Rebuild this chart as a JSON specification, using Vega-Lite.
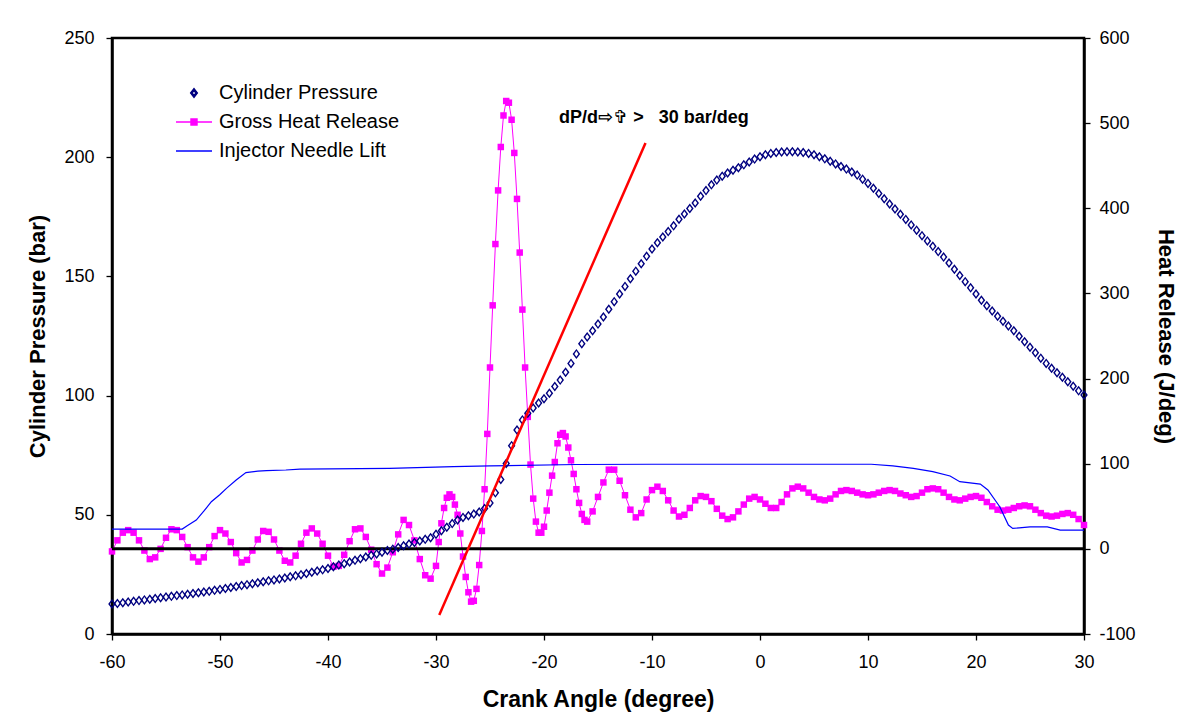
{
 "$schema": "https://vega.github.io/schema/vega-lite/v6.json",
 "width": 972,
 "height": 596,
 "autosize": {"type": "none"},
 "padding": {"left": 112, "top": 38, "right": 106, "bottom": 86},
 "background": "white",
 "config": {
  "view": {"stroke": "black", "strokeWidth": 2.5},
  "axis": {"grid": false, "domainColor": "black", "domainWidth": 2.5, "tickColor": "black", "tickWidth": 1.3, "tickSize": 6, "labelColor": "black", "labelFont": "Liberation Sans", "labelFontSize": 18, "titleFont": "Liberation Sans", "titleFontWeight": "bold", "titleColor": "black", "titleFontSize": 22, "labelFlush": false, "labelOverlap": false, "labelExpr": "'' + datum.value"}
 },
 "datasets": {
  "pressure": [
   {"a":-60,"v":12.6},{"a":-59.5,"v":12.8},{"a":-59,"v":13.1},{"a":-58.5,"v":13.4},{"a":-58,"v":13.7},{"a":-57.5,"v":14.0},{"a":-57,"v":14.3},{"a":-56.5,"v":14.6},{"a":-56,"v":14.9},{"a":-55.5,"v":15.2},{"a":-55,"v":15.5},{"a":-54.5,"v":15.8},{"a":-54,"v":16.1},{"a":-53.5,"v":16.4},{"a":-53,"v":16.7},{"a":-52.5,"v":17.0},{"a":-52,"v":17.3},{"a":-51.5,"v":17.6},{"a":-51,"v":17.9},{"a":-50.5,"v":18.3},{"a":-50,"v":18.7},{"a":-49.5,"v":19.1},{"a":-49,"v":19.5},{"a":-48.5,"v":19.9},{"a":-48,"v":20.3},{"a":-47.5,"v":20.7},{"a":-47,"v":21.1},{"a":-46.5,"v":21.5},{"a":-46,"v":21.9},{"a":-45.5,"v":22.3},{"a":-45,"v":22.7},{"a":-44.5,"v":23.1},{"a":-44,"v":23.5},{"a":-43.5,"v":24.0},{"a":-43,"v":24.4},{"a":-42.5,"v":24.9},{"a":-42,"v":25.4},{"a":-41.5,"v":25.9},{"a":-41,"v":26.4},{"a":-40.5,"v":26.9},{"a":-40,"v":27.5},{"a":-39.5,"v":28.2},{"a":-39,"v":28.9},{"a":-38.5,"v":29.5},{"a":-38,"v":30.2},{"a":-37.5,"v":30.9},{"a":-37,"v":31.6},{"a":-36.5,"v":32.3},{"a":-36,"v":33.0},{"a":-35.5,"v":33.6},{"a":-35,"v":34.3},{"a":-34.5,"v":35.0},{"a":-34,"v":35.6},{"a":-33.5,"v":36.3},{"a":-33,"v":37.0},{"a":-32.5,"v":37.7},{"a":-32,"v":38.4},{"a":-31.5,"v":39.0},{"a":-31,"v":39.7},{"a":-30.5,"v":40.4},{"a":-30,"v":41.8},{"a":-29.5,"v":43.3},{"a":-29,"v":44.8},{"a":-28.5,"v":46.3},{"a":-28,"v":47.8},{"a":-27.5,"v":48.9},{"a":-27,"v":49.6},{"a":-26.5,"v":50.3},{"a":-26,"v":51.2},{"a":-25.5,"v":52.6},{"a":-25,"v":55.0},{"a":-24.5,"v":59.2},{"a":-24,"v":64.8},{"a":-23.5,"v":71.5},{"a":-23,"v":79.0},{"a":-22.5,"v":85.6},{"a":-22,"v":89.8},{"a":-21.5,"v":92.6},{"a":-21,"v":94.8},{"a":-20.5,"v":96.9},{"a":-20,"v":98.7},{"a":-19.5,"v":101.0},{"a":-19,"v":103.8},{"a":-18.5,"v":106.5},{"a":-18,"v":109.8},{"a":-17.5,"v":113.5},{"a":-17,"v":117.5},{"a":-16.5,"v":121.8},{"a":-16,"v":124.6},{"a":-15.5,"v":127.2},{"a":-15,"v":130.0},{"a":-14.5,"v":133.0},{"a":-14,"v":136.2},{"a":-13.5,"v":139.4},{"a":-13,"v":142.6},{"a":-12.5,"v":145.8},{"a":-12,"v":149.0},{"a":-11.5,"v":152.2},{"a":-11,"v":155.3},{"a":-10.5,"v":158.4},{"a":-10,"v":161.5},{"a":-9.5,"v":164.1},{"a":-9,"v":166.5},{"a":-8.5,"v":168.8},{"a":-8,"v":171.2},{"a":-7.5,"v":174.0},{"a":-7,"v":176.2},{"a":-6.5,"v":178.5},{"a":-6,"v":180.8},{"a":-5.5,"v":183.6},{"a":-5,"v":186.0},{"a":-4.5,"v":188.4},{"a":-4,"v":190.4},{"a":-3.5,"v":192.0},{"a":-3,"v":193.4},{"a":-2.5,"v":194.5},{"a":-2,"v":195.6},{"a":-1.5,"v":196.8},{"a":-1,"v":198.0},{"a":-0.5,"v":199.2},{"a":0,"v":200.2},{"a":0.5,"v":201.0},{"a":1,"v":201.6},{"a":1.5,"v":202.0},{"a":2,"v":202.2},{"a":2.5,"v":202.3},{"a":3,"v":202.3},{"a":3.5,"v":202.2},{"a":4,"v":202.0},{"a":4.5,"v":201.6},{"a":5,"v":201.0},{"a":5.5,"v":200.2},{"a":6,"v":199.3},{"a":6.5,"v":198.3},{"a":7,"v":197.2},{"a":7.5,"v":196.1},{"a":8,"v":195.0},{"a":8.5,"v":193.8},{"a":9,"v":192.5},{"a":9.5,"v":190.8},{"a":10,"v":189.0},{"a":10.5,"v":187.0},{"a":11,"v":184.8},{"a":11.5,"v":182.6},{"a":12,"v":180.4},{"a":12.5,"v":178.3},{"a":13,"v":176.1},{"a":13.5,"v":173.9},{"a":14,"v":171.6},{"a":14.5,"v":169.4},{"a":15,"v":167.1},{"a":15.5,"v":164.9},{"a":16,"v":162.6},{"a":16.5,"v":160.4},{"a":17,"v":158.1},{"a":17.5,"v":155.6},{"a":18,"v":153.0},{"a":18.5,"v":150.4},{"a":19,"v":147.8},{"a":19.5,"v":145.2},{"a":20,"v":142.6},{"a":20.5,"v":140.0},{"a":21,"v":137.7},{"a":21.5,"v":135.5},{"a":22,"v":133.3},{"a":22.5,"v":131.2},{"a":23,"v":129.2},{"a":23.5,"v":127.2},{"a":24,"v":124.9},{"a":24.5,"v":122.6},{"a":25,"v":120.3},{"a":25.5,"v":118.0},{"a":26,"v":115.7},{"a":26.5,"v":113.5},{"a":27,"v":111.5},{"a":27.5,"v":109.6},{"a":28,"v":107.7},{"a":28.5,"v":105.8},{"a":29,"v":103.9},{"a":29.5,"v":102.0},{"a":30,"v":100.2}
  ],
  "heat": [
   {"a":-60,"v":-3},{"a":-59.5,"v":10},{"a":-59,"v":19},{"a":-58.5,"v":22},{"a":-58,"v":19},{"a":-57.5,"v":10},{"a":-57,"v":-2},{"a":-56.5,"v":-12},{"a":-56,"v":-10},{"a":-55.5,"v":0},{"a":-55,"v":13},{"a":-54.5,"v":23},{"a":-54,"v":22},{"a":-53.5,"v":14},{"a":-53,"v":2},{"a":-52.5,"v":-10},{"a":-52,"v":-15},{"a":-51.5,"v":-10},{"a":-51,"v":2},{"a":-50.5,"v":15},{"a":-50,"v":22},{"a":-49.5,"v":18},{"a":-49,"v":8},{"a":-48.5,"v":-5},{"a":-48,"v":-16},{"a":-47.5,"v":-13},{"a":-47,"v":-2},{"a":-46.5,"v":11},{"a":-46,"v":21},{"a":-45.5,"v":20},{"a":-45,"v":11},{"a":-44.5,"v":-2},{"a":-44,"v":-14},{"a":-43.5,"v":-16},{"a":-43,"v":-8},{"a":-42.5,"v":6},{"a":-42,"v":19},{"a":-41.5,"v":24},{"a":-41,"v":18},{"a":-40.5,"v":6},{"a":-40,"v":-8},{"a":-39.5,"v":-21},{"a":-39,"v":-20},{"a":-38.5,"v":-7},{"a":-38,"v":9},{"a":-37.5,"v":23},{"a":-37,"v":24},{"a":-36.5,"v":14},{"a":-36,"v":-1},{"a":-35.5,"v":-18},{"a":-35,"v":-29},{"a":-34.5,"v":-22},{"a":-34,"v":-4},{"a":-33.5,"v":17},{"a":-33,"v":34},{"a":-32.5,"v":28},{"a":-32,"v":10},{"a":-31.5,"v":-12},{"a":-31,"v":-31},{"a":-30.5,"v":-35},{"a":-30,"v":-20},{"a":-29.75,"v":8},{"a":-29.5,"v":30},{"a":-29.25,"v":48},{"a":-29,"v":60},{"a":-28.75,"v":64},{"a":-28.5,"v":61},{"a":-28.25,"v":52},{"a":-28,"v":40},{"a":-27.75,"v":18},{"a":-27.5,"v":-9},{"a":-27.25,"v":-33},{"a":-27,"v":-51},{"a":-26.75,"v":-62},{"a":-26.5,"v":-61},{"a":-26.25,"v":-47},{"a":-26,"v":-19},{"a":-25.75,"v":21},{"a":-25.5,"v":70},{"a":-25.25,"v":135},{"a":-25,"v":213},{"a":-24.75,"v":286},{"a":-24.5,"v":358},{"a":-24.25,"v":421},{"a":-24,"v":472},{"a":-23.75,"v":509},{"a":-23.5,"v":526},{"a":-23.25,"v":524},{"a":-23,"v":504},{"a":-22.75,"v":465},{"a":-22.5,"v":411},{"a":-22.25,"v":348},{"a":-22,"v":281},{"a":-21.75,"v":213},{"a":-21.5,"v":155},{"a":-21.25,"v":99},{"a":-21,"v":59},{"a":-20.75,"v":32},{"a":-20.5,"v":19},{"a":-20.25,"v":19},{"a":-20,"v":26},{"a":-19.75,"v":45},{"a":-19.5,"v":66},{"a":-19.25,"v":86},{"a":-19,"v":102},{"a":-18.75,"v":124},{"a":-18.5,"v":134},{"a":-18.25,"v":136},{"a":-18,"v":132},{"a":-17.75,"v":119},{"a":-17.5,"v":104},{"a":-17.25,"v":88},{"a":-17,"v":70},{"a":-16.75,"v":54},{"a":-16.5,"v":41},{"a":-16.25,"v":34},{"a":-16,"v":32},{"a":-15.5,"v":44},{"a":-15,"v":61},{"a":-14.5,"v":78},{"a":-14,"v":93},{"a":-13.5,"v":93},{"a":-13,"v":80},{"a":-12.5,"v":63},{"a":-12,"v":46},{"a":-11.5,"v":37},{"a":-11,"v":42},{"a":-10.5,"v":58},{"a":-10,"v":69},{"a":-9.5,"v":73},{"a":-9,"v":68},{"a":-8.5,"v":57},{"a":-8,"v":45},{"a":-7.5,"v":38},{"a":-7,"v":40},{"a":-6.5,"v":48},{"a":-6,"v":57},{"a":-5.5,"v":62},{"a":-5,"v":61},{"a":-4.5,"v":56},{"a":-4,"v":47},{"a":-3.5,"v":39},{"a":-3,"v":35},{"a":-2.5,"v":37},{"a":-2,"v":44},{"a":-1.5,"v":52},{"a":-1,"v":59},{"a":-0.5,"v":61},{"a":0,"v":58},{"a":0.5,"v":53},{"a":1,"v":48},{"a":1.5,"v":48},{"a":2,"v":55},{"a":2.5,"v":64},{"a":3,"v":71},{"a":3.5,"v":73},{"a":4,"v":71},{"a":4.5,"v":66},{"a":5,"v":61},{"a":5.5,"v":58},{"a":6,"v":57},{"a":6.5,"v":59},{"a":7,"v":64},{"a":7.5,"v":68},{"a":8,"v":69},{"a":8.5,"v":68},{"a":9,"v":66},{"a":9.5,"v":64},{"a":10,"v":63},{"a":10.5,"v":64},{"a":11,"v":66},{"a":11.5,"v":68},{"a":12,"v":69},{"a":12.5,"v":68},{"a":13,"v":65},{"a":13.5,"v":63},{"a":14,"v":61},{"a":14.5,"v":62},{"a":15,"v":66},{"a":15.5,"v":70},{"a":16,"v":71},{"a":16.5,"v":70},{"a":17,"v":66},{"a":17.5,"v":61},{"a":18,"v":58},{"a":18.5,"v":57},{"a":19,"v":59},{"a":19.5,"v":61},{"a":20,"v":62},{"a":20.5,"v":60},{"a":21,"v":55},{"a":21.5,"v":50},{"a":22,"v":46},{"a":22.5,"v":45},{"a":23,"v":46},{"a":23.5,"v":48},{"a":24,"v":50},{"a":24.5,"v":51},{"a":25,"v":50},{"a":25.5,"v":46},{"a":26,"v":42},{"a":26.5,"v":39},{"a":27,"v":38},{"a":27.5,"v":39},{"a":28,"v":41},{"a":28.5,"v":42},{"a":29,"v":40},{"a":29.5,"v":35},{"a":30,"v":28}
  ],
  "needle": [
   {"a":-60,"v":44.0},{"a":-53.5,"v":44.0},{"a":-53,"v":45.5},{"a":-52.2,"v":47.8},{"a":-51.5,"v":51.5},{"a":-50.8,"v":55.5},{"a":-50,"v":58.5},{"a":-49.4,"v":61.1},{"a":-48.5,"v":64.6},{"a":-47.6,"v":67.7},{"a":-46.5,"v":68.3},{"a":-45.7,"v":68.5},{"a":-43.9,"v":68.8},{"a":-42.6,"v":69.2},{"a":-34.3,"v":69.5},{"a":-28.4,"v":70.2},{"a":-25,"v":70.5},{"a":-17,"v":71.1},{"a":-10,"v":71.2},{"a":10.3,"v":71.2},{"a":12.3,"v":70.5},{"a":14.2,"v":69.5},{"a":16,"v":68.1},{"a":17.6,"v":66.3},{"a":18.5,"v":63.9},{"a":20.4,"v":62.9},{"a":21.1,"v":60.4},{"a":22.2,"v":53.4},{"a":23,"v":45.7},{"a":23.4,"v":44.3},{"a":24,"v":44.5},{"a":25,"v":44.9},{"a":26.6,"v":44.9},{"a":27.8,"v":43.6},{"a":30,"v":43.6}
  ]
 },
 "layer": [
  {
   "layer": [
    {
     "data": {"name": "heat"},
     "mark": {"type": "line", "strokeWidth": 1},
     "encoding": {
      "x": {"field": "a", "type": "quantitative", "scale": {"domain": [-60, 30], "nice": false, "zero": false}, "axis": {"values": [-60,-50,-40,-30,-20,-10,0,10,20,30], "title": "Crank Angle (degree)", "titleFontSize": 23, "labelPadding": 13, "titlePadding": 17}},
      "y": {"field": "v", "type": "quantitative", "scale": {"domain": [-100, 600], "nice": false, "zero": false}, "axis": {"orient": "right", "values": [-100,0,100,200,300,400,500,600], "title": "Heat Release (J/deg)", "labelPadding": 9, "titlePadding": 18}},
      "color": {"datum": "Gross Heat Release", "type": "nominal", "scale": {"domain": ["Cylinder Pressure", "Gross Heat Release", "Injector Needle Lift"], "range": ["#000080", "#ff00ff", "#0000ff"]},
       "legend": {"orient": "none", "legendX": 63, "legendY": 36, "title": null, "padding": 0, "symbolSize": 1296, "symbolStrokeWidth": 1.3, "symbolOpacity": 1, "labelFontSize": 20, "labelFont": "Liberation Sans", "labelColor": "black", "labelOffset": 6, "rowPadding": 0, "labelLimit": 400}}
     }
    },
    {
     "data": {"name": "heat"},
     "mark": {"type": "point", "shape": "square", "filled": true, "size": 42, "opacity": 1},
     "encoding": {
      "x": {"field": "a", "type": "quantitative"},
      "y": {"field": "v", "type": "quantitative"},
      "color": {"datum": "Gross Heat Release", "type": "nominal"}
     }
    },
    {
     "data": {"values": [{}]},
     "mark": {"type": "rule", "color": "black", "strokeWidth": 3},
     "encoding": {"y": {"datum": 0, "type": "quantitative"}}
    }
   ]
  },
  {
   "layer": [
    {
     "data": {"name": "needle"},
     "mark": {"type": "line", "strokeWidth": 1.2},
     "encoding": {
      "x": {"field": "a", "type": "quantitative"},
      "y": {"field": "v", "type": "quantitative", "scale": {"domain": [0, 250], "nice": false, "zero": false}, "axis": {"orient": "left", "values": [0,50,100,150,200,250], "title": "Cylinder Pressure (bar)", "labelPadding": 12, "titlePadding": 14}},
      "color": {"datum": "Injector Needle Lift", "type": "nominal"}
     }
    },
    {
     "data": {"name": "pressure"},
     "mark": {"type": "point", "filled": true, "size": 1600, "opacity": 1},
     "encoding": {
      "x": {"field": "a", "type": "quantitative"},
      "y": {"field": "v", "type": "quantitative"},
      "color": {"datum": "Cylinder Pressure", "type": "nominal"},
      "shape": {"datum": "Cylinder Pressure", "type": "nominal",
       "scale": {"domain": ["Cylinder Pressure", "Gross Heat Release", "Injector Needle Lift"], "range": ["M-0.19,0L0,-0.25L0.19,0L0,0.25ZM-0.1,0L0,0.14L0.1,0L0,-0.14Z", "M-1,0L1,0M-0.17,-0.17L0.17,-0.17L0.17,0.17L-0.17,0.17Z", "M-1,0L1,0"]},
       "legend": {"orient": "none", "legendX": 63, "legendY": 36, "title": null, "padding": 0, "symbolSize": 1296, "symbolStrokeWidth": 1.3, "symbolOpacity": 1, "labelFontSize": 20, "labelFont": "Liberation Sans", "labelColor": "black", "labelOffset": 6, "rowPadding": 0, "labelLimit": 400}}
     }
    },
    {
     "data": {"values": [{"a": -29.7, "v": 8}, {"a": -10.6, "v": 206}]},
     "mark": {"type": "line", "color": "#ff0000", "strokeWidth": 2.5},
     "encoding": {
      "x": {"field": "a", "type": "quantitative"},
      "y": {"field": "v", "type": "quantitative"}
     }
    },
    {
     "data": {"values": [{"a": -18.6, "v": 216.5, "t": "dP/d⇨✞ >\u00a0\u00a0\u00a030 bar/deg"}]},
     "mark": {"type": "text", "align": "left", "baseline": "middle", "fontSize": 18, "fontWeight": "bold", "font": "Liberation Sans, DejaVu Sans", "color": "black"},
     "encoding": {
      "x": {"field": "a", "type": "quantitative"},
      "y": {"field": "v", "type": "quantitative"},
      "text": {"field": "t"}
     }
    }
   ]
  }
 ],
 "resolve": {"scale": {"y": "independent"}}
}
